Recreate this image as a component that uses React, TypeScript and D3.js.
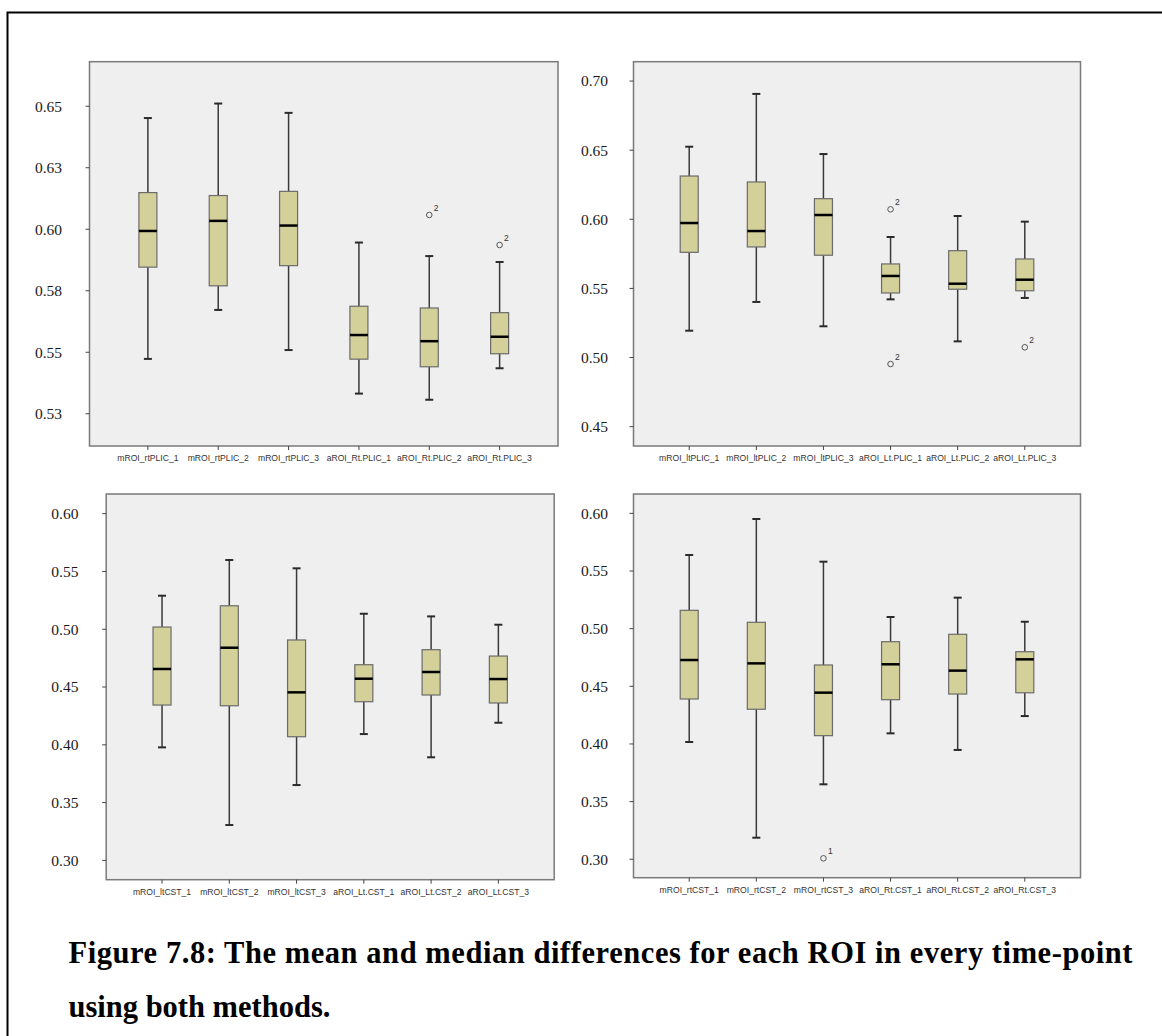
import React from 'react';
import * as d3 from 'd3';

// ---- data ----
const catsRtPLIC = ['mROI_rtPLIC_1', 'mROI_rtPLIC_2', 'mROI_rtPLIC_3', 'aROI_Rt.PLIC_1', 'aROI_Rt.PLIC_2', 'aROI_Rt.PLIC_3'];
const lowRtPLIC = [0.5473, 0.5672, 0.5509, 0.5332, 0.5307, 0.5435];
const q1RtPLIC = [0.5846, 0.5770, 0.5852, 0.5472, 0.5441, 0.5494];
const medRtPLIC = [0.5993, 0.6034, 0.6015, 0.5570, 0.5545, 0.5563];
const q3RtPLIC = [0.6149, 0.6137, 0.6154, 0.5687, 0.5680, 0.5661];
const highRtPLIC = [0.6452, 0.6511, 0.6473, 0.5946, 0.5891, 0.5867];
const outRtPLIC = [
  { cat: 4, v: 0.6058, id: '2' },
  { cat: 5, v: 0.5936, id: '2' },
];
const ticksRtPLIC = [0.525, 0.55, 0.575, 0.6, 0.625, 0.65];
const tickLabelsRtPLIC = ['0.53', '0.55', '0.58', '0.60', '0.63', '0.65'];

const catsLtPLIC = ['mROI_ltPLIC_1', 'mROI_ltPLIC_2', 'mROI_ltPLIC_3', 'aROI_Lt.PLIC_1', 'aROI_Lt.PLIC_2', 'aROI_Lt.PLIC_3'];
const lowLtPLIC = [0.5194, 0.5402, 0.5226, 0.5421, 0.5117, 0.5431];
const q1LtPLIC = [0.5761, 0.5800, 0.5740, 0.5467, 0.5494, 0.5483];
const medLtPLIC = [0.5973, 0.5915, 0.6031, 0.5590, 0.5534, 0.5563];
const q3LtPLIC = [0.6313, 0.6270, 0.6149, 0.5677, 0.5773, 0.5713];
const highLtPLIC = [0.6525, 0.6907, 0.6472, 0.5872, 0.6024, 0.5983];
const outLtPLIC = [
  { cat: 3, v: 0.6072, id: '2' },
  { cat: 3, v: 0.4953, id: '2' },
  { cat: 5, v: 0.5074, id: '2' },
];
const ticksLtPLIC = [0.45, 0.5, 0.55, 0.6, 0.65, 0.7];
const tickLabelsLtPLIC = ['0.45', '0.50', '0.55', '0.60', '0.65', '0.70'];

const catsLtCST = ['mROI_ltCST_1', 'mROI_ltCST_2', 'mROI_ltCST_3', 'aROI_Lt.CST_1', 'aROI_Lt.CST_2', 'aROI_Lt.CST_3'];
const lowLtCST = [0.3978, 0.3306, 0.3652, 0.4093, 0.3892, 0.4191];
const q1LtCST = [0.4344, 0.4338, 0.4070, 0.4373, 0.4431, 0.4362];
const medLtCST = [0.4656, 0.4840, 0.4454, 0.4572, 0.4630, 0.4569];
const q3LtCST = [0.5019, 0.5203, 0.4907, 0.4693, 0.4823, 0.4768];
const highLtCST = [0.5290, 0.5599, 0.5527, 0.5134, 0.5111, 0.5039];
const outLtCST: { cat: number; v: number; id: string }[] = [];
const ticksCST = [0.3, 0.35, 0.4, 0.45, 0.5, 0.55, 0.6];
const tickLabelsCST = ['0.30', '0.35', '0.40', '0.45', '0.50', '0.55', '0.60'];

const catsRtCST = ['mROI_rtCST_1', 'mROI_rtCST_2', 'mROI_rtCST_3', 'aROI_Rt.CST_1', 'aROI_Rt.CST_2', 'aROI_Rt.CST_3'];
const lowRtCST = [0.4017, 0.3187, 0.3650, 0.4092, 0.3948, 0.4242];
const q1RtCST = [0.4390, 0.4301, 0.4072, 0.4384, 0.4433, 0.4444];
const medRtCST = [0.4728, 0.4699, 0.4445, 0.4691, 0.4636, 0.4734];
const q3RtCST = [0.5159, 0.5055, 0.4685, 0.4887, 0.4951, 0.4800];
const highRtCST = [0.5639, 0.5951, 0.5581, 0.5101, 0.5269, 0.5060];
const outRtCST = [{ cat: 2, v: 0.3008, id: '1' }];

const captionLines = [
  'Figure 7.8: The mean and median differences for each ROI in every time-point',
  'using both methods.',
];

const W = 1162;
const H = 1036;
const BOX_FILL = '#d4d09a';

type Outlier = { cat: number; v: number; id: string };

interface PanelProps {
  x0: number; x1: number; y0: number; y1: number;
  domain: [number, number];
  labelRight: number;
  cats: string[];
  low: number[]; q1: number[]; med: number[]; q3: number[]; high: number[];
  outliers: Outlier[];
  ticks: number[];
  tickLabels: string[];
}

const BoxPanel = (p: PanelProps) => {
  const x = d3.scalePoint<number>()
    .domain(d3.range(p.cats.length))
    .range([p.x0, p.x1])
    .padding(0.83);
  const y = d3.scaleLinear().domain(p.domain).range([p.y1, p.y0]);
  const bw = 18;
  const cap = 8;

  return (
    <g>
      <rect x={p.x0} y={p.y0} width={p.x1 - p.x0} height={p.y1 - p.y0}
        fill="#efefef" stroke="#7a7a7a" strokeWidth={1.5} />
      {/* y axis */}
      {p.ticks.map((t, i) => (
        <g key={'t' + i}>
          <line x1={p.x0 - 4} x2={p.x0} y1={y(t)} y2={y(t)} stroke="#444" strokeWidth={1} />
          <text x={p.labelRight} y={y(t)} dy="0.35em" textAnchor="end"
            fontFamily="'Liberation Serif', 'Times New Roman', serif" fontSize={15.5} fill="#1a1a1a">
            {p.tickLabels[i]}
          </text>
        </g>
      ))}
      {/* x axis */}
      {p.cats.map((c, i) => (
        <g key={'c' + i}>
          <line x1={x(i)!} x2={x(i)!} y1={p.y1} y2={p.y1 + 4} stroke="#444" strokeWidth={1} />
          <text x={x(i)!} y={p.y1 + 15} textAnchor="middle"
            fontFamily="'Liberation Sans', Arial, sans-serif" fontSize={8.6} fill="#333">
            {c}
          </text>
        </g>
      ))}
      {/* boxes */}
      {p.cats.map((c, i) => {
        const cx = x(i)!;
        return (
          <g key={'b' + i}>
            <line x1={cx} x2={cx} y1={y(p.high[i])} y2={y(p.q3[i])} stroke="#3a3a3a" strokeWidth={1.5} />
            <line x1={cx} x2={cx} y1={y(p.q1[i])} y2={y(p.low[i])} stroke="#3a3a3a" strokeWidth={1.5} />
            <line x1={cx - cap / 2} x2={cx + cap / 2} y1={y(p.high[i])} y2={y(p.high[i])} stroke="#2a2a2a" strokeWidth={2} />
            <line x1={cx - cap / 2} x2={cx + cap / 2} y1={y(p.low[i])} y2={y(p.low[i])} stroke="#2a2a2a" strokeWidth={2} />
            <rect x={cx - bw / 2} y={y(p.q3[i])} width={bw} height={y(p.q1[i]) - y(p.q3[i])}
              fill={BOX_FILL} stroke="#6b6b6b" strokeWidth={1.2} />
            <line x1={cx - bw / 2} x2={cx + bw / 2} y1={y(p.med[i])} y2={y(p.med[i])} stroke="#000" strokeWidth={2.5} />
          </g>
        );
      })}
      {/* outliers */}
      {p.outliers.map((o, i) => (
        <g key={'o' + i}>
          <circle cx={x(o.cat)!} cy={y(o.v)} r={2.8} fill="none" stroke="#555" strokeWidth={1} />
          <text x={x(o.cat)! + 4.5} y={y(o.v) - 4} fontFamily="'Liberation Sans', Arial, sans-serif"
            fontSize={8.5} fill="#333">{o.id}</text>
        </g>
      ))}
    </g>
  );
};

export default function App() {
  return (
    <svg width={W} height={H} style={{ position: 'absolute', left: 0, top: 0, background: '#fff' }}>
      <rect x={0} y={0} width={W} height={H} fill="#fff" />
      <rect x={7.5} y={12.5} width={W + 20} height={H + 20} fill="none" stroke="#000" strokeWidth={2} />

      <BoxPanel x0={89.5} x1={558} y0={61.7} y1={446} domain={[0.5119, 0.6681]} labelRight={62}
        cats={catsRtPLIC} low={lowRtPLIC} q1={q1RtPLIC} med={medRtPLIC} q3={q3RtPLIC} high={highRtPLIC}
        outliers={outRtPLIC} ticks={ticksRtPLIC} tickLabels={tickLabelsRtPLIC} />

      <BoxPanel x0={633.5} x1={1080.5} y0={61.7} y1={446} domain={[0.436, 0.714]} labelRight={608}
        cats={catsLtPLIC} low={lowLtPLIC} q1={q1LtPLIC} med={medLtPLIC} q3={q3LtPLIC} high={highLtPLIC}
        outliers={outLtPLIC} ticks={ticksLtPLIC} tickLabels={tickLabelsLtPLIC} />

      <BoxPanel x0={106.2} x1={554.2} y0={494} y1={879.7} domain={[0.2833, 0.617]} labelRight={78.4}
        cats={catsLtCST} low={lowLtCST} q1={q1LtCST} med={medLtCST} q3={q3LtCST} high={highLtCST}
        outliers={outLtCST} ticks={ticksCST} tickLabels={tickLabelsCST} />

      <BoxPanel x0={633.5} x1={1080.5} y0={494} y1={877.7} domain={[0.284, 0.6168]} labelRight={608}
        cats={catsRtCST} low={lowRtCST} q1={q1RtCST} med={medRtCST} q3={q3RtCST} high={highRtCST}
        outliers={outRtCST} ticks={ticksCST} tickLabels={tickLabelsCST} />

      {/* caption: first line is justified to the text block width */}
      {captionLines.map((l, i) => (
        <text key={i} x={68.5} y={963 + i * 54}
          textLength={i === 0 ? 1064 : undefined}
          lengthAdjust={i === 0 ? 'spacing' : undefined}
          fontFamily="'Liberation Serif', 'Times New Roman', serif" fontWeight="bold" fontSize={30.5} fill="#000">
          {l}
        </text>
      ))}
    </svg>
  );
}
